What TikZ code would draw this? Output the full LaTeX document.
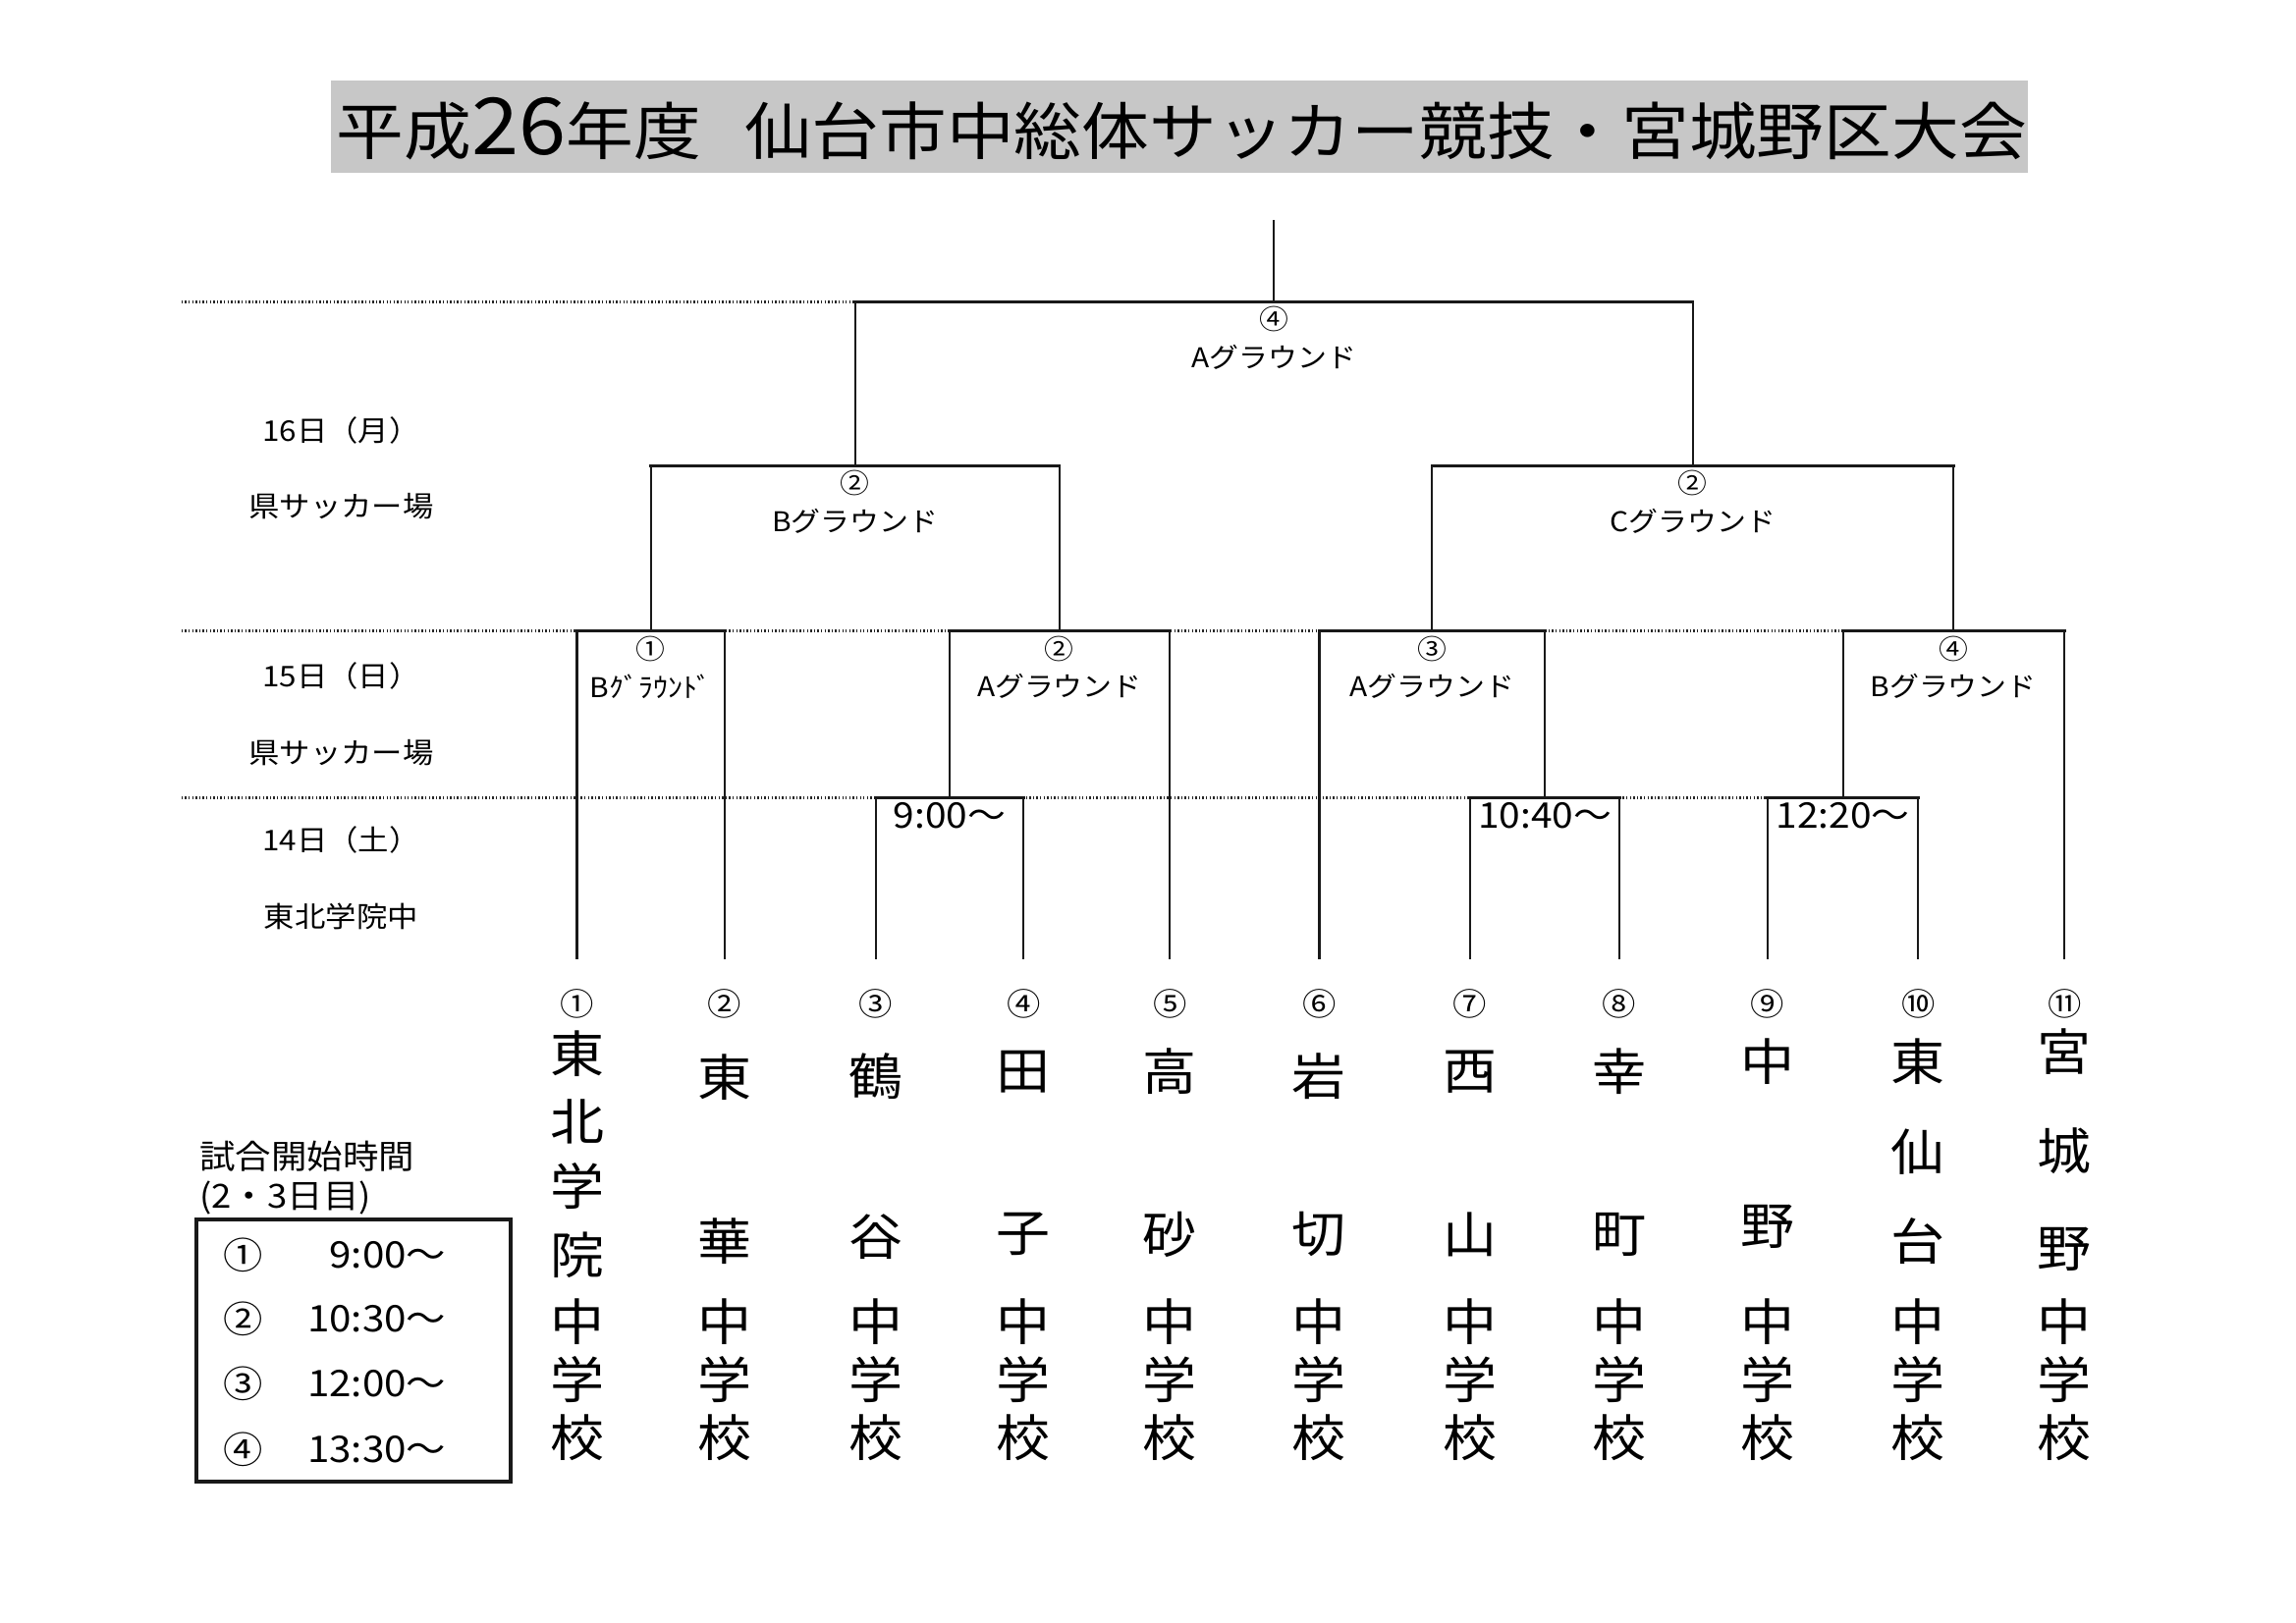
\documentclass[tikz,border=0pt]{standalone}
\usepackage{fontspec}
\setmainfont{Noto Sans CJK JP}
\newfontfamily\jp[FakeStretch=1.08]{Noto Sans CJK JP}
\usetikzlibrary{calc}
\newcommand{\fs}[1]{\fontsize{#1}{#1}\selectfont}
% one school name, one character per row
\newcommand{\colname}[3]{\foreach \c/\y [count=\j] in {#3} {\node[sname] (nm#1-\j) at (#2,\y) {\c};}}
% one match: two legs and the thick top bar
\newcommand{\bracket}[3]{%
  \draw[vline] (#1) -- (#1 |- #3) (#2) -- (#2 |- #3);
  \draw[hline] (#1 |- #3) -- (#2 |- #3);}

\begin{document}
\begin{tikzpicture}[
    x=0.18941mm, y=-0.18941mm,
    vline/.style={line width=0.75pt, black!90},
    hline/.style={line width=1.2pt, black!90, line cap=rect},
    guide/.style={line width=1.2pt, black!85, dash pattern=on 0.5pt off 0.8pt},
    title/.style={font=\jp\fs{23}, inner sep=0pt},
    day/.style={font=\jp\fs{10.5}, inner sep=0pt},
    ground/.style={font=\jp\fs{10}, inner sep=0pt},
    rnum/.style={font=\jp\fs{10}, inner sep=0pt},
    time/.style={font=\jp\fs{13}, inner sep=0pt},
    snum/.style={font=\jp\fs{11.5}, inner sep=0pt},
    sname/.style={font=\jp\fs{18.4}, inner sep=0pt},
    legend/.style={font=\jp\fs{12.2}, inner sep=0pt, anchor=west},
    legitem/.style={font=\jp\fs{13.5}, inner sep=0pt}
]
\useasboundingbox (0,0) rectangle (1568,1108);

% Title
\fill[black!22] (226,55) rectangle (1385,118);
\node[title] (title) at (807,88) {平成{\fs{29}26}年度\hspace{16pt}仙台市中総体サッカー競技・宮城野区大会};

% Days and venues
\node[day] (d16) at (233,294) {16日（月）};
\node[day] (v16) at (233,346) {県サッカー場};
\node[day] (d15) at (233,462) {15日（日）};
\node[day] (v15) at (233,514) {県サッカー場};
\node[day] (d14) at (233,574) {14日（土）};
\node[day] (v14) at (233,626) {東北学院中};

% Schools
\foreach \i/\x/\k in {1/394/①,2/495/②,3/598/③,4/699/④,5/799/⑤,6/901/⑥,7/1004/⑦,8/1106/⑧,9/1207/⑨,10/1310/⑩,11/1410/⑪} {
  \coordinate (s\i) at (\x,655);
  \node[snum] (n\i) at (\x,686) {\k};
  \node[sname] (zh\i) at (\x,903) {中};
  \node[sname] (ga\i) at (\x,942) {学};
  \node[sname] (ko\i) at (\x,982) {校};
}
\colname{1}{394}{東/720,北/766,学/810,院/857}
\colname{2}{495}{東/736,華/848}
\colname{3}{598}{鶴/735,谷/845}
\colname{4}{699}{田/732,子/843}
\colname{5}{799}{高/732,砂/843}
\colname{6}{901}{岩/735,切/843}
\colname{7}{1004}{西/732,山/843}
\colname{8}{1106}{幸/732,町/843}
\colname{9}{1207}{中/725,野/838}
\colname{10}{1310}{東/725,仙/787,台/848}
\colname{11}{1410}{宮/718,城/786,野/853}

% Match points
\coordinate (m1) at (648.5,545);
\coordinate (m2) at (1055,545);
\coordinate (m3) at (1258.5,545);
\coordinate (q1) at (444.5,431);
\coordinate (q2) at (723.5,431);
\coordinate (q3) at (978,431);
\coordinate (q4) at (1334,431);
\coordinate (h1) at (584,318);
\coordinate (h2) at (1156,318);
\coordinate (f) at (870,206);
\coordinate (champ) at (870,150);

% Day lines
\draw[guide] (124,206) -- (h1 |- f);
\draw[guide] (124,431) -- (s11 |- q4);
\draw[guide] (124,545) -- (s10 |- m3);

% Bracket
\bracket{s3}{s4}{m1}
\bracket{s7}{s8}{m2}
\bracket{s9}{s10}{m3}
\bracket{s1}{s2}{q1}
\bracket{m1}{s5}{q2}
\bracket{s6}{m2}{q3}
\bracket{m3}{s11}{q4}
\bracket{q1}{q2}{h1}
\bracket{q3}{q4}{h2}
\bracket{h1}{h2}{f}
\draw[vline] (f) -- (champ);

% Match labels
\node[rnum] (lf) at ($(f)+(0,12)$) {④};
\node[ground] (gf) at ($(f)+(0,38)$) {Aグラウンド};
\node[rnum] (lh1) at ($(h1)+(0,12)$) {②};
\node[ground] (gh1) at ($(h1)+(0,38)$) {Bグラウンド};
\node[rnum] (lh2) at ($(h2)+(0,12)$) {②};
\node[ground] (gh2) at ($(h2)+(0,38)$) {Cグラウンド};
\node[rnum] (lq1) at ($(q1)+(0,12)$) {①};
\node[ground] (gq1) at ($(q1)+(0,38)$) {Bｸﾞﾗｳﾝﾄﾞ};
\node[rnum] (lq2) at ($(q2)+(0,12)$) {②};
\node[ground] (gq2) at ($(q2)+(0,38)$) {Aグラウンド};
\node[rnum] (lq3) at ($(q3)+(0,12)$) {③};
\node[ground] (gq3) at ($(q3)+(0,38)$) {Aグラウンド};
\node[rnum] (lq4) at ($(q4)+(0,12)$) {④};
\node[ground] (gq4) at ($(q4)+(0,38)$) {Bグラウンド};
\node[time] (tm1) at ($(m1)+(0,12)$) {9:00～};
\node[time] (tm2) at ($(m2)+(0,12)$) {10:40～};
\node[time] (tm3) at ($(m3)+(0,12)$) {12:20～};

% Start times
\node[legend] (lg1) at (136,790) {試合開始時間};
\node[legend] (lg2) at (136,818) {(2・3日目)};
\draw[line width=1.5pt, black!90] (134,833) rectangle (349,1012);
\foreach \k/\t/\y in {①/9:00～/857,②/10:30～/901,③/12:00～/945,④/13:30～/990} {
  \node[legitem] (lc\y) at (166,\y) {\k};
  \node[legitem, anchor=east] (lt\y) at (305,\y) {\t};
}
\end{tikzpicture}
\end{document}
